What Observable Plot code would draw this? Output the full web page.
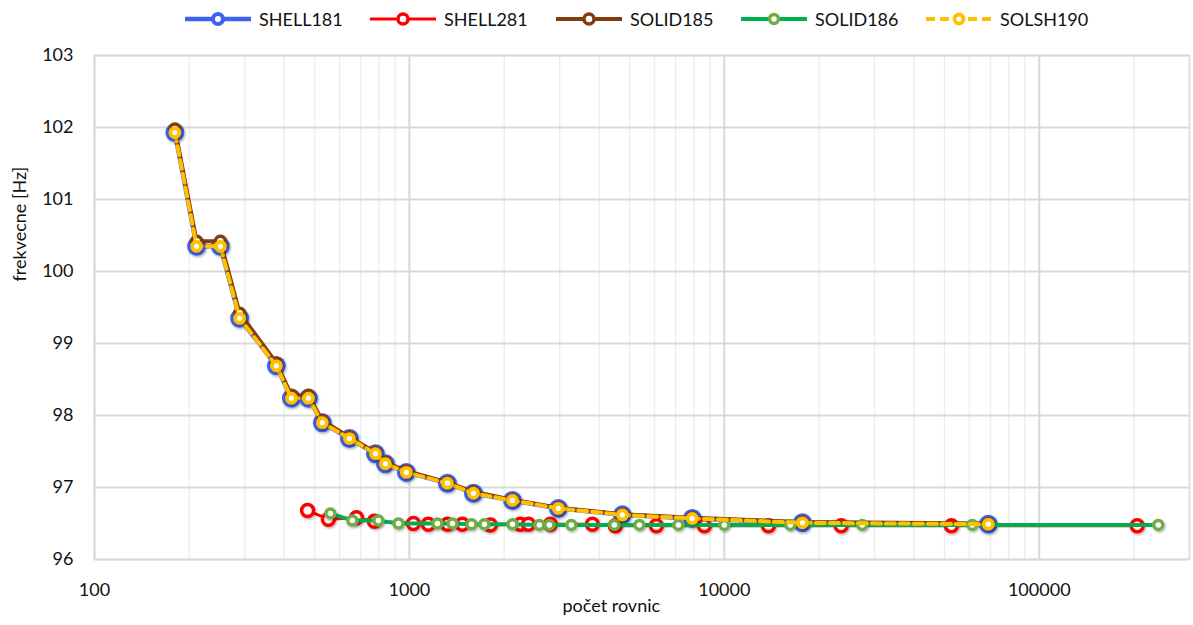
<!DOCTYPE html>
<html><head><meta charset="utf-8">
<script src="https://cdn.jsdelivr.net/npm/d3@7"></script>
<script src="https://cdn.jsdelivr.net/npm/@observablehq/plot@0.6"></script>
<style>
body{margin:0;background:#fff;font-family:Lato,"Open Sans",sans-serif;}
#wrap{position:relative;width:1193px;height:625px;overflow:hidden;}
#legend{position:relative;height:40px;width:1193px;}
.item{position:absolute;top:6px;height:26px;display:flex;align-items:center;font-size:18px;color:#111;white-space:nowrap;}
.item svg{margin-right:6px;}
</style></head><body>
<div id="wrap"><div id="legend"></div><div id="chart"></div></div>
<script>
// ---- data ----
const xTicks = [100, 1000, 10000, 100000];
const yTicks = [96, 97, 98, 99, 100, 101, 102, 103];

const shell181_x = [180, 211, 251, 289, 378, 422, 478, 529, 645, 780, 839, 978, 1320, 1597, 2124, 2971, 4745, 7910, 17700, 68900];
const shell181_y = [101.93, 100.35, 100.35, 99.35, 98.69, 98.24, 98.24, 97.90, 97.68, 97.47, 97.33, 97.21, 97.06, 96.92, 96.82, 96.71, 96.62, 96.57, 96.51, 96.49];

const shell281_x = [475, 553, 679, 774, 1030, 1148, 1320, 1472, 1807, 2250, 2388, 2804, 3810, 4508, 6083, 8640, 13800, 23500, 52600, 204700];
const shell281_y = [96.68, 96.56, 96.58, 96.53, 96.50, 96.49, 96.49, 96.49, 96.48, 96.49, 96.49, 96.49, 96.49, 96.47, 96.47, 96.47, 96.47, 96.47, 96.47, 96.47];

const solid185_x = [180, 211, 251, 289, 378, 422, 478, 529, 645, 780, 839, 978, 1320, 1597, 2124, 2971, 4745, 7910, 17700, 68900];
const solid185_y = [101.98, 100.42, 100.42, 99.42, 98.73, 98.28, 98.28, 97.93, 97.70, 97.49, 97.35, 97.23, 97.07, 96.94, 96.83, 96.72, 96.63, 96.58, 96.52, 96.50];

const solid186_x = [561, 659, 797, 923, 1227, 1370, 1574, 1730, 2124, 2586, 2782, 3266, 4475, 5375, 7148, 10000, 16200, 27400, 61300, 238800];
const solid186_y = [96.64, 96.54, 96.54, 96.50, 96.50, 96.50, 96.49, 96.49, 96.49, 96.48, 96.48, 96.48, 96.48, 96.48, 96.48, 96.48, 96.48, 96.48, 96.48, 96.48];

const solsh190_x = [180, 211, 251, 289, 378, 422, 478, 529, 645, 780, 839, 978, 1320, 1597, 2124, 2971, 4745, 7910, 17700, 68900];
const solsh190_y = [101.93, 100.35, 100.35, 99.35, 98.69, 98.24, 98.24, 97.90, 97.68, 97.47, 97.33, 97.21, 97.06, 96.92, 96.82, 96.71, 96.62, 96.57, 96.51, 96.49];

// ---- styles ----
const series = [
  {name:"SHELL181", x:shell181_x, y:shell181_y, line:"#3b62f0", lw:4.5, dash:null, mk:"#3b62f0", r:7.5, msw:4},
  {name:"SHELL281", x:shell281_x, y:shell281_y, line:"#ff0000", lw:3, dash:null, mk:"#ff0000", r:6, msw:3.5},
  {name:"SOLID185", x:solid185_x, y:solid185_y, line:"#843c0c", lw:4, dash:null, mk:"#843c0c", r:5, msw:3.5},
  {name:"SOLID186", x:solid186_x, y:solid186_y, line:"#00b050", lw:4, dash:null, mk:"#70ad47", r:4.5, msw:3.5},
  {name:"SOLSH190", x:solsh190_x, y:solsh190_y, line:"#ffc000", lw:4, dash:"9,5", mk:"#ffc000", r:4.5, msw:3.8}
];

// ---- legend ----
const legendLefts = [183, 368, 554, 739, 924];
const legend = document.getElementById("legend");
series.forEach((s, i) => {
  const d = document.createElement("div");
  d.className = "item";
  d.style.left = legendLefts[i] + "px";
  d.innerHTML = `<svg width="70" height="20"><line x1="2" x2="68" y1="10" y2="10" stroke="${s.line}" stroke-width="${s.lw}" ${s.dash ? `stroke-dasharray="${s.dash}"` : ""}/><circle cx="35" cy="10" r="${Math.min(s.r,5)}" fill="#fff" stroke="${s.mk}" stroke-width="${s.msw}"/></svg><span>${s.name}</span>`;
  legend.appendChild(d);
});

// ---- chart ----
const marks = [
  Plot.gridX({stroke:"#ececec", strokeOpacity:1, strokeWidth:1.3}),
  Plot.ruleX(xTicks, {stroke:"#d9d9d9", strokeWidth:2}),
  Plot.ruleY(yTicks, {stroke:"#d9d9d9", strokeWidth:2}),
  Plot.frame({stroke:"#d9d9d9", strokeWidth:1.5}),
  Plot.axisX({ticks:xTicks, tickFormat:d => String(d), tickSize:0, tickPadding:24, fontSize:18, label:null}),
  Plot.axisY({ticks:yTicks, tickFormat:d => String(d), tickSize:0, tickPadding:21, fontSize:18, label:null})
];
series.forEach(s => {
  const rows = s.x.map((x, i) => ({x, y:s.y[i]}));
  marks.push(Plot.line(rows, {x:"x", y:"y", stroke:s.line, strokeWidth:s.lw, strokeDasharray:s.dash || undefined, strokeLinejoin:"round"}));
  marks.push(Plot.dot(rows, {x:"x", y:"y", r:s.r, fill:"#fff", stroke:s.mk, strokeWidth:s.msw, className:"mk"}));
});
marks.push(Plot.text(["počet rovnic"], {frameAnchor:"bottom-left", dx:468, dy:52, text:d => d, fontSize:18, fill:"#111"}));
marks.push(Plot.text(["frekvecne [Hz]"], {frameAnchor:"left", dx:-74, dy:-26, rotate:-90, text:d => d, fontSize:18, fill:"#111"}));

const chart = Plot.plot({
  width:1193, height:585,
  marginTop:15, marginBottom:66, marginLeft:94, marginRight:4,
  x:{type:"log", domain:[100, 300000]},
  y:{domain:[96, 103]},
  style:{fontFamily:"Lato, 'Open Sans', sans-serif", color:"#111", background:"#fff"},
  marks
});
// soft marker shadow, as in the reference
const svg = d3.select(chart);
const f = svg.insert("defs", ":first-child").append("filter").attr("id", "shd")
  .attr("x", "-50%").attr("y", "-50%").attr("width", "200%").attr("height", "200%");
f.append("feDropShadow").attr("dx", 1).attr("dy", 1.5).attr("stdDeviation", 1.3)
  .attr("flood-color", "#000").attr("flood-opacity", 0.3);
svg.selectAll("g.mk circle").attr("filter", "url(#shd)");
document.getElementById("chart").appendChild(chart);
</script>
</body></html>
